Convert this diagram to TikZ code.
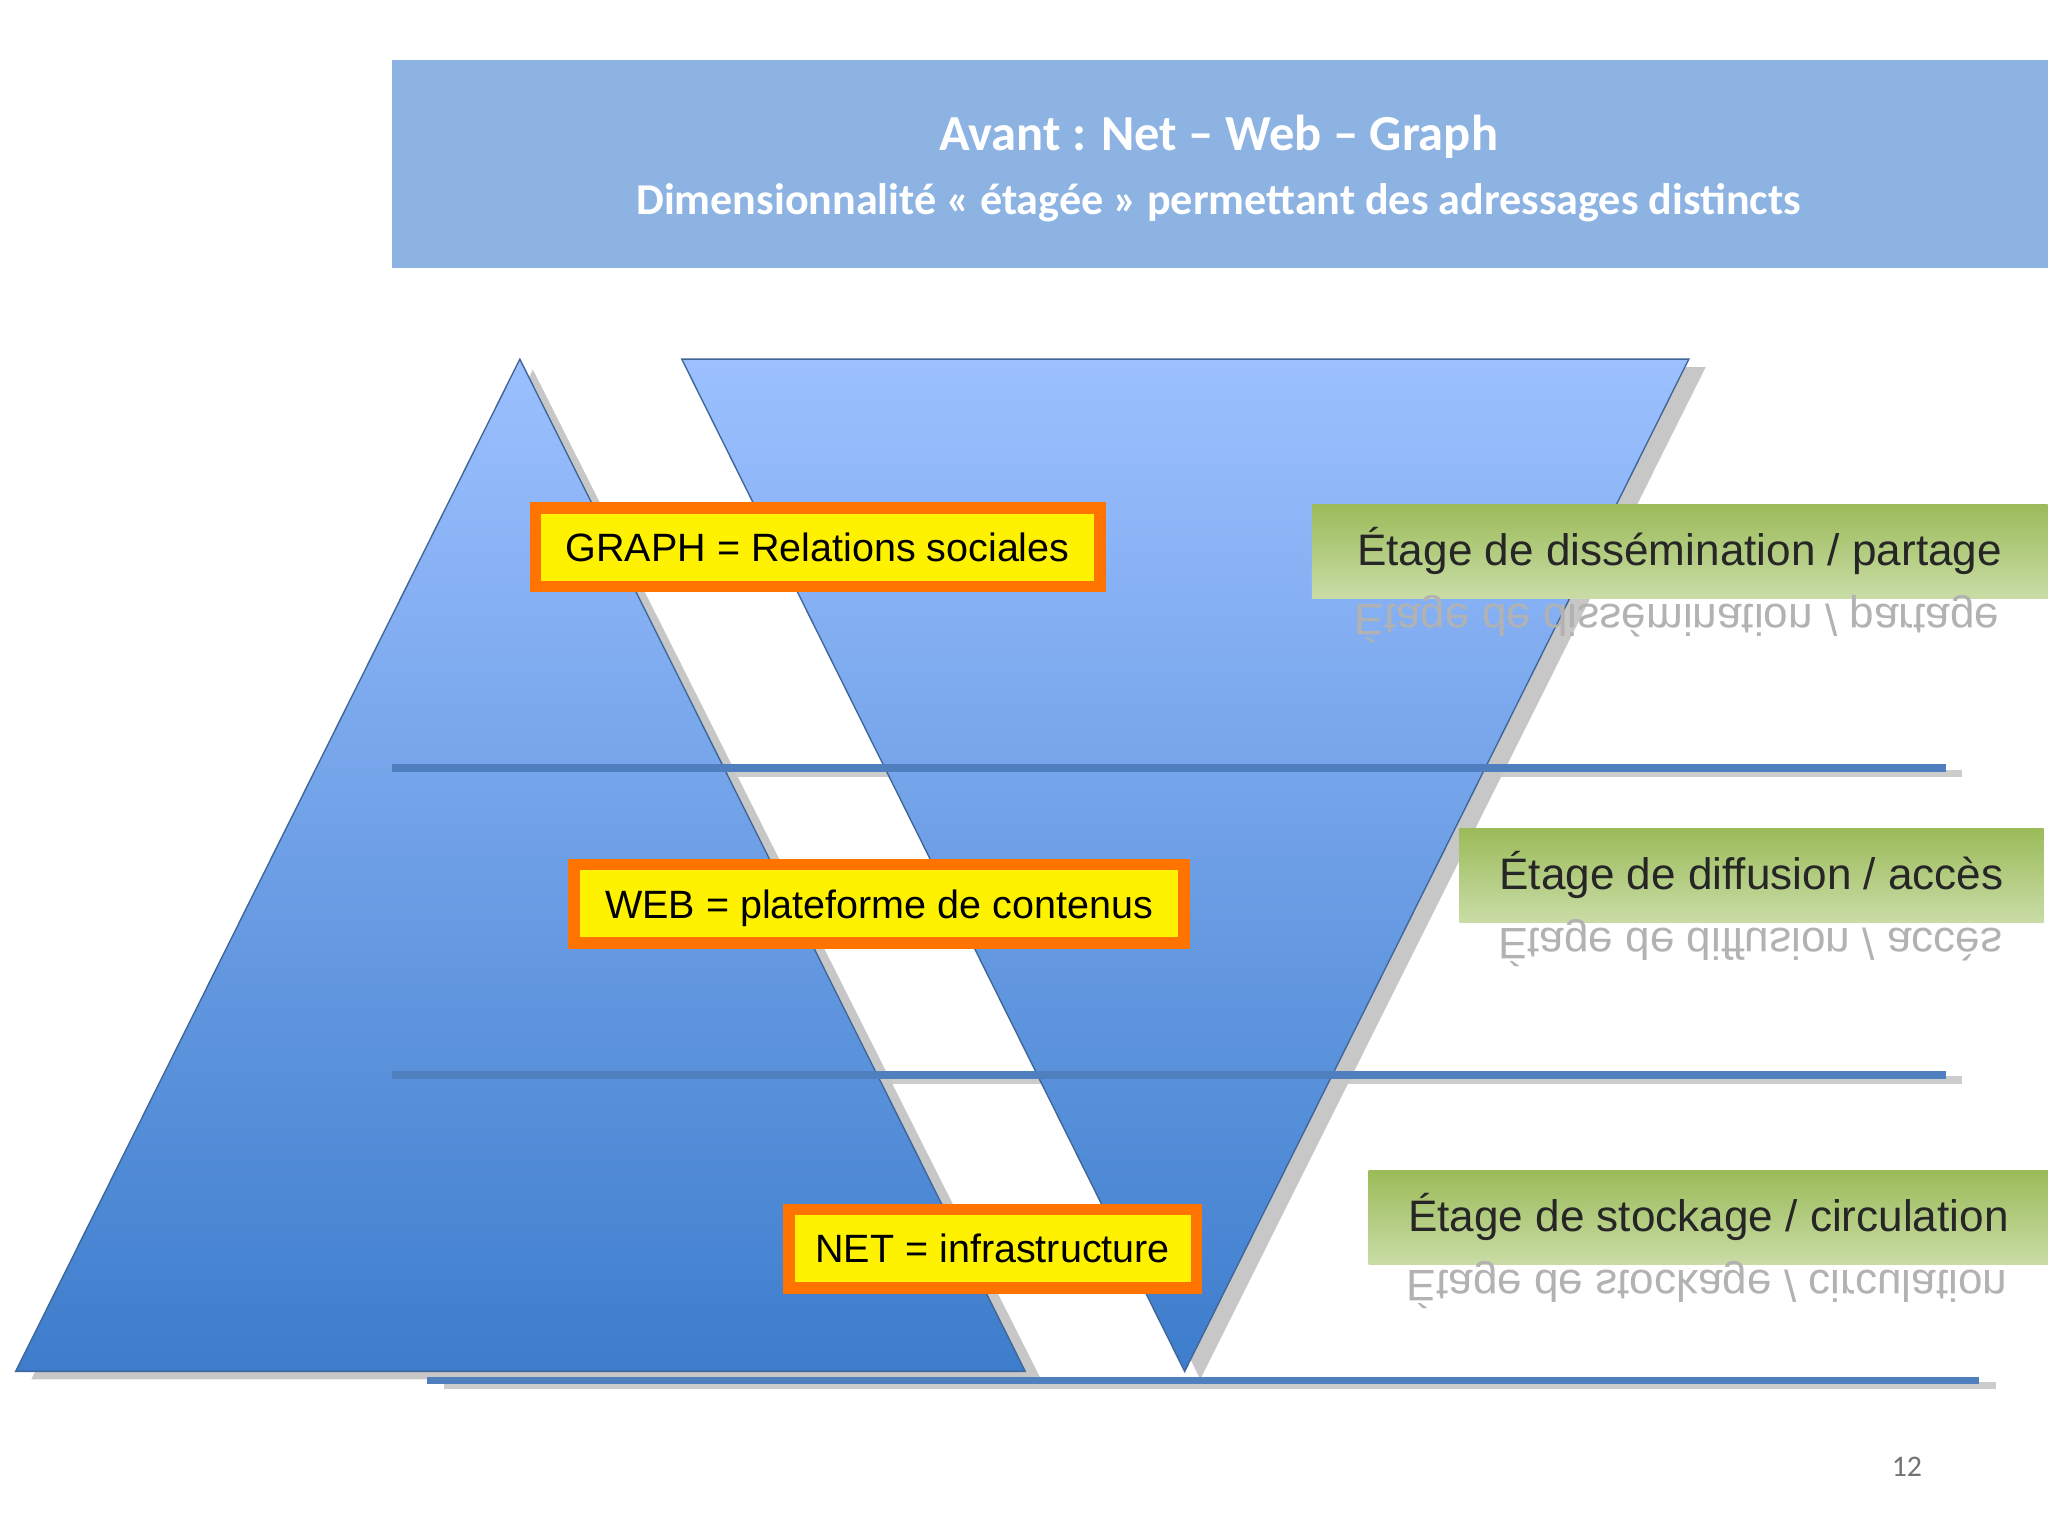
\documentclass[tikz,border=0pt]{standalone}
\usepackage{fontspec}
\setmainfont{Liberation Sans}
\newfontfamily\titlefont{Carlito}
\usetikzlibrary{positioning, calc}
\definecolor{band}{HTML}{8DB3E2}
\definecolor{triTop}{HTML}{9CC0FF}
\definecolor{triBot}{HTML}{3D7DCC}
\definecolor{rule}{HTML}{4F7FBE}
\definecolor{greenTop}{HTML}{9BBB59}
\definecolor{greenBot}{HTML}{C9DCA6}
\tikzset{
    layer/.style={draw=rule!80!black, line width=0.3pt, top color=triTop, bottom color=triBot},
    shadow/.style={fill=black!22},
    floor/.style={draw=rule, line width=1.6pt},
    floorshadow/.style={draw=black!20, line width=1.6pt},
    tag/.style={fill=yellow, draw=orange!90!red, line width=2.5pt, font=\fontsize{8.6}{10}\selectfont,
        inner sep=0pt, minimum height=0.6cm, text depth=0pt},
    stage/.style={top color=greenTop, bottom color=greenBot, inner sep=0pt, minimum height=0.72cm,
        font=\fontsize{9.6}{11}\selectfont, text=black!85},
    mirror/.style={yscale=-1, font=\fontsize{9.6}{11}\selectfont, text=black!30, inner sep=0pt}
}
\begin{document}
\begin{tikzpicture}[x=0.01cm, y=-0.01cm]
    \useasboundingbox (0,0) rectangle (1568,1176);
    \fill[white] (0,0) rectangle (1568,1176);

    % header band
    \fill[band] (300,46) rectangle (1568,205);
    \node[text=white, font=\titlefont\bfseries\fontsize{11}{13}\selectfont] (title) at (933,105)
        {Avant : Net – Web – Graph};
    \node[text=white, font=\titlefont\bfseries\fontsize{9.6}{11}\selectfont] (subtitle) at (933,155)
        {Dimensionnalité « étagée » permettant des adressages distincts};

    % floors
    \draw[floorshadow] (314,592) -- (1502,592);
    \draw[floorshadow] (314,827) -- (1502,827);
    \draw[floorshadow] (340,1061) -- (1528,1061);

    % pyramid and funnel
    \fill[shadow] (408,283) -- (797,1056) -- (24,1056) -- cycle;
    \fill[shadow] (534,281) -- (1306,281) -- (919,1056) -- cycle;
    \draw[layer] (398,275) -- (785,1050) -- (12,1050) -- cycle;
    \draw[layer] (522,275) -- (1293,275) -- (907,1050) -- cycle;

    \draw[floor] (300,588) -- (1490,588);
    \draw[floor] (300,823) -- (1490,823);
    \draw[floor] (327,1057) -- (1515,1057);

    % layer names
    \node[tag, minimum width=4.32cm] (graph) at (626,419) {GRAPH = Relations sociales};
    \node[tag, minimum width=4.67cm] (web) at (673,692) {WEB = plateforme de contenus};
    \node[tag, minimum width=3.12cm] (net) at (760,956) {NET = infrastructure};

    % stages with reflections
    \node[stage, minimum width=5.63cm] (diss) at (1286,422) {Étage de dissémination / partage};
    \node[mirror] (dissR) at (1284,474) {Étage de dissémination / partage};
    \node[stage, minimum width=4.47cm] (diff) at (1341,670) {Étage de diffusion / accès};
    \node[mirror] (diffR) at (1340,722) {Étage de diffusion / accès};
    \node[stage, minimum width=5.2cm] (stock) at (1308,932) {Étage de stockage / circulation};
    \node[mirror] (stockR) at (1307,984) {Étage de stockage / circulation};

    \node[text=black!55, font=\titlefont\fontsize{6.5}{8}\selectfont] (page) at (1460,1123) {12};
\end{tikzpicture}
\end{document}
